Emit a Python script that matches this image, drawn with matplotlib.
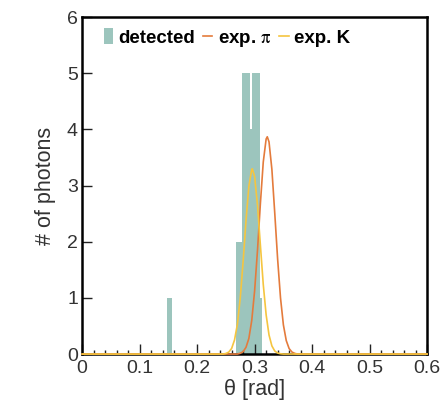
import matplotlib.pyplot as plt
import numpy as np

plt.rcParams['font.family'] = ['Liberation Sans', 'DejaVu Sans']
plt.rcParams['mathtext.fontset'] = 'stix'

# detected photons (histogram edges / counts)
det_edges = [0.147, 0.157, 0.268, 0.278, 0.2925, 0.2955, 0.3095, 0.312]
det_counts = [1, 0, 2, 5, 4, 5, 1]

# expected pion ring
pi_theta = [0.0, 0.270, 0.275, 0.280, 0.285, 0.290, 0.295, 0.300, 0.305, 0.310,
            0.315, 0.320, 0.322, 0.325, 0.330, 0.335, 0.340, 0.345, 0.350, 0.355,
            0.360, 0.365, 0.370, 0.375, 0.6]
pi_n = [0.0, 0.0, 0.014, 0.043, 0.12, 0.28, 0.60, 1.13, 1.85, 2.68,
        3.42, 3.83, 3.87, 3.78, 3.29, 2.51, 1.69, 1.00, 0.52, 0.24,
        0.097, 0.035, 0.011, 0.0, 0.0]

# expected kaon ring
k_theta = [0.0, 0.245, 0.250, 0.255, 0.260, 0.265, 0.270, 0.275, 0.280, 0.285,
           0.290, 0.295, 0.296, 0.300, 0.305, 0.310, 0.315, 0.320, 0.325, 0.330,
           0.335, 0.340, 0.345, 0.350, 0.6]
k_n = [0.0, 0.0, 0.01, 0.035, 0.10, 0.25, 0.53, 1.00, 1.65, 2.38,
       2.99, 3.29, 3.30, 3.16, 2.65, 1.94, 1.24, 0.70, 0.34, 0.145,
       0.054, 0.018, 0.005, 0.0, 0.0]

fig = plt.figure(figsize=(4.44, 4.19), dpi=100)
ax = fig.add_axes([0.185, 0.155, 0.777, 0.804])

ax.stairs(det_counts, det_edges, fill=True, color='#9cc5bd', label='detected', zorder=1)
ax.plot(pi_theta, pi_n, color='#e47b3c', lw=1.2, label=r'exp. $\mathrm{\pi}$',
        zorder=3, clip_on=False)
ax.plot(k_theta, k_n, color='#f5c540', lw=1.2, label='exp. K', zorder=3, clip_on=False)

ax.set_xlim(0, 0.6)
ax.set_ylim(0, 6)
ax.set_xticks(np.arange(0, 0.61, 0.1))
ax.set_xticklabels(['0', '0.1', '0.2', '0.3', '0.4', '0.5', '0.6'])
ax.set_xticks(np.arange(0, 0.61, 0.02), minor=True)
ax.set_yticks(range(7))
ax.tick_params(which='both', direction='in', top=False, right=False,
               labelsize=14, width=1.0, color='#222222', labelcolor='#333333')
ax.tick_params(which='major', length=7)
ax.tick_params(which='minor', length=3)
ax.tick_params(axis='x', pad=4)
ax.tick_params(axis='y', pad=3)
for s in ax.spines.values():
    s.set_linewidth(1.8)

ax.set_xlabel(r'θ [rad]', fontsize=15.5, labelpad=2, color='#333333')
ax.set_ylabel('# of photons', fontsize=15.5, labelpad=8, color='#333333')

leg = ax.legend(loc='upper left', ncol=3, frameon=False, prop={'weight': 'bold', 'size': 13.5},
                handlelength=0.5, handleheight=0.9, handletextpad=0.3, columnspacing=0.4,
                borderaxespad=0.2, bbox_to_anchor=(0.03, 1.0))

fig.savefig('out.png', dpi=100)
